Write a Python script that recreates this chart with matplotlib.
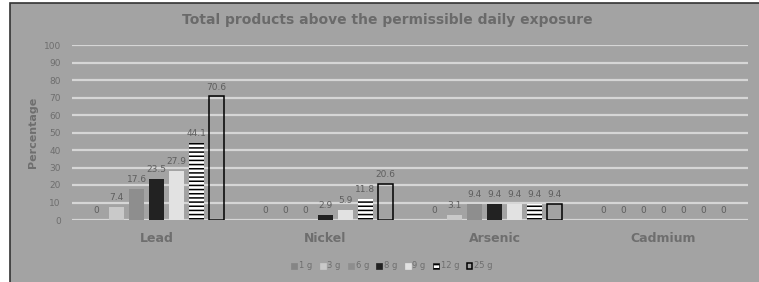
import matplotlib
matplotlib.use('Agg')
import matplotlib.pyplot as plt
from matplotlib.patches import Rectangle, Patch
import numpy as np

metals = ['Lead', 'Nickel', 'Arsenic', 'Cadmium']
doses = ['1 g', '3 g', '6 g', '8 g', '9 g', '12 g', '25 g']
lead = [0, 7.4, 17.6, 23.5, 27.9, 44.1, 70.6]
nickel = [0, 0, 0, 2.9, 5.9, 11.8, 20.6]
arsenic = [0, 3.1, 9.4, 9.4, 9.4, 9.4, 9.4]
cadmium = [0, 0, 0, 0, 0, 0, 0]
yticks = list(range(0, 101, 10))

vals = np.array([lead, nickel, arsenic, cadmium])
bg = '#a3a3a3'
faces = ['#858585', '#c9c9c9', '#8e8e8e', '#222222', '#e2e2e2', 'white', 'none']
edges = ['none', 'none', 'none', 'none', 'none', 'black', 'black']
hatches = [None, None, None, None, None, '----', None]
lws = [0, 0, 0, 0, 0, 0, 1.1]

fig = plt.figure(figsize=(7.59, 2.82), dpi=100)
fig.patch.set_facecolor('white')
fig.patches.append(Rectangle((10/759, -0.1), 1.1, 1.1-3/282, transform=fig.transFigure,
                             facecolor=bg, edgecolor='#333333', lw=1.2, zorder=-10))
ax = fig.add_axes([72/759, 1-220/282, 676/759, 175/282])
ax.set_facecolor('none')
plt.rcParams['hatch.linewidth'] = 1.1

x = np.arange(len(metals))
step = 0.118
w = 0.089
for i, d in enumerate(doses):
  xs = x + (i-3)*step
  v = vals[:, i]
  nz = v > 0
  ax.bar(xs[nz], v[nz], w, color=faces[i], edgecolor=edges[i], hatch=hatches[i],
         linewidth=lws[i], zorder=3, label=d)
  for xx, vv in zip(xs, v):
    ax.text(xx, vv+2.8, '{:g}'.format(vv), ha='center', va='bottom', fontsize=6.5,
            color='#5e5e5e', zorder=4)

ax.set_xlim(-0.5, 3.5)
ax.set_ylim(0, 100)
ax.set_yticks(yticks)
ax.yaxis.grid(True, color='#d6d6d6', lw=1.6, zorder=1)
ax.set_axisbelow(True)
for s in ax.spines.values():
  s.set_visible(False)
ax.tick_params(axis='y', length=0, labelsize=6.5, labelcolor='#6e6e6e', pad=8)
ax.tick_params(axis='x', length=0, pad=9)
ax.set_xticks(x)
ax.set_xticklabels(metals, fontsize=9, fontweight='bold', color='#6e6e6e')
ax.set_ylabel('Percentage', fontsize=8, fontweight='bold', color='#6e6e6e', labelpad=4)

fig.text(387/759, 1-20/282, 'Total products above the permissible daily exposure',
         ha='center', va='center', fontsize=10, fontweight='bold', color='#6a6a6a')

handles = [Patch(facecolor=faces[i] if faces[i] != 'none' else bg,
                 edgecolor='black' if edges[i] != 'none' else faces[i],
                 hatch=hatches[i], linewidth=lws[i] if lws[i] else 0.5) for i in range(len(doses))]
fig.legend(handles, doses, loc='center', bbox_to_anchor=(392/759, 1-266/282), ncol=7,
           frameon=False, fontsize=6, labelcolor='#6e6e6e', handlelength=0.7,
           handleheight=0.7, handletextpad=0.2, columnspacing=0.9)

fig.savefig('out.png', dpi=100, facecolor=fig.get_facecolor())
